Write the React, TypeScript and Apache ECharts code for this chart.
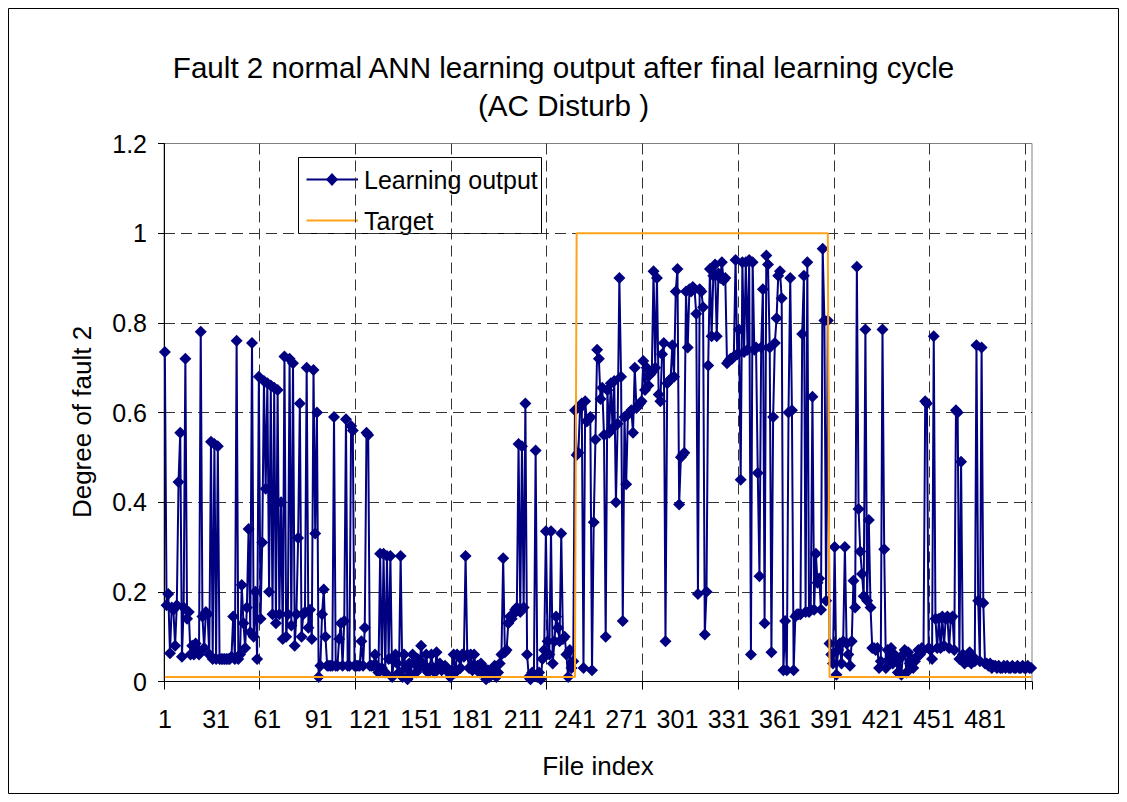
import React, { useEffect, useRef } from "react";
import * as echarts from "echarts";

const TITLE_LINE_1 = "Fault 2 normal ANN learning output after final learning cycle";
const TITLE_LINE_2 = "(AC Disturb )";
const X_NAME = "File index";
const Y_NAME = "Degree of fault 2";
const SERIES_NAMES = ["Learning output", "Target"];

// Learning output, files 1-57
const output001to057 = [
  0.735, 0.17, 0.195, 0.063, 0.165, 0.16, 0.08, 0.17, 0.445, 0.555, 0.055, 0.165, 0.72, 0.14, 0.155,
  0.06, 0.08, 0.06, 0.085, 0.065, 0.06, 0.78, 0.145, 0.075, 0.155, 0.15, 0.06, 0.535, 0.05, 0.53,
  0.05, 0.525, 0.05, 0.05, 0.05, 0.05, 0.05, 0.05, 0.05, 0.055, 0.145, 0.05, 0.76, 0.05, 0.06,
  0.215, 0.13, 0.075, 0.165, 0.34, 0.11, 0.755, 0.1, 0.2, 0.05, 0.68, 0.14,
];
// files 58-110
const output058to110 = [
  0.31, 0.67, 0.43, 0.665, 0.2, 0.66, 0.15, 0.655, 0.13, 0.65, 0.15, 0.4, 0.095, 0.725, 0.1,
  0.15, 0.72, 0.125, 0.71, 0.08, 0.15, 0.32, 0.62, 0.1, 0.15, 0.155, 0.7, 0.12, 0.16, 0.095,
  0.695, 0.33, 0.6, 0.01, 0.035, 0.15, 0.205, 0.1, 0.035, 0.035, 0.035, 0.035, 0.59, 0.035, 0.035,
  0.095, 0.13, 0.035, 0.135, 0.585, 0.035, 0.035, 0.57,
];
// files 111-166
const output111to166 = [
  0.56, 0.035, 0.035, 0.035, 0.035, 0.09, 0.035, 0.12, 0.555, 0.55, 0.035, 0.035, 0.035, 0.06, 0.035,
  0.02, 0.285, 0.03, 0.285, 0.02, 0.28, 0.05, 0.28, 0.01, 0.045, 0.06, 0.04, 0.02, 0.28, 0.01,
  0.06, 0.03, 0.005, 0.04, 0.015, 0.06, 0.04, 0.02, 0.05, 0.03, 0.08, 0.04, 0.03, 0.06, 0.02,
  0.03, 0.06, 0.03, 0.02, 0.065, 0.03, 0.04, 0.025, 0.03, 0.035, 0.03,
];
// files 167-225
const output167to225 = [
  0.02, 0.01, 0.025, 0.06, 0.02, 0.06, 0.055, 0.03, 0.06, 0.055, 0.28, 0.06, 0.03, 0.06, 0.025,
  0.06, 0.03, 0.035, 0.02, 0.04, 0.02, 0.03, 0.005, 0.025, 0.01, 0.015, 0.02, 0.035, 0.01, 0.02,
  0.04, 0.06, 0.275, 0.065, 0.07, 0.13, 0.145, 0.14, 0.15, 0.16, 0.165, 0.53, 0.155, 0.525, 0.165,
  0.62, 0.06, 0.01, 0.005, 0.02, 0.015, 0.515, 0.01, 0.02, 0.005, 0.05, 0.07, 0.335, 0.09,
];
// files 226-281
const output226to281 = [
  0.06, 0.335, 0.04, 0.09, 0.145, 0.12, 0.09, 0.33, 0.095, 0.1, 0.06, 0.01, 0.07, 0.03, 0.045,
  0.605, 0.505, 0.51, 0.61, 0.62, 0.03, 0.625, 0.58, 0.585, 0.59, 0.025, 0.355, 0.54, 0.74, 0.72,
  0.63, 0.655, 0.55, 0.1, 0.65, 0.555, 0.665, 0.565, 0.67, 0.4, 0.575, 0.9, 0.68, 0.135, 0.59,
  0.44, 0.595, 0.6, 0.605, 0.555, 0.7, 0.61, 0.615, 0.62, 0.625, 0.715,
];
// files 282-340
const output282to340 = [
  0.65, 0.7, 0.66, 0.685, 0.69, 0.915, 0.7, 0.9, 0.64, 0.625, 0.73, 0.755, 0.09, 0.665, 0.67,
  0.675, 0.75, 0.68, 0.87, 0.92, 0.395, 0.5, 0.505, 0.51, 0.87, 0.745, 0.875, 0.87, 0.88, 0.875,
  0.82, 0.195, 0.875, 0.87, 0.835, 0.105, 0.2, 0.705, 0.92, 0.77, 0.905, 0.93, 0.77, 0.91, 0.9,
  0.935, 0.895, 0.9, 0.71, 0.715, 0.72, 0.72, 0.725, 0.94, 0.73, 0.785, 0.45, 0.935, 0.735,
];
// files 341-395
const output341to395 = [
  0.935, 0.74, 0.94, 0.06, 0.935, 0.74, 0.745, 0.465, 0.235, 0.745, 0.875, 0.13, 0.95, 0.93, 0.745,
  0.065, 0.59, 0.755, 0.81, 0.905, 0.915, 0.855, 0.025, 0.135, 0.025, 0.6, 0.9, 0.605, 0.025, 0.145,
  0.15, 0.15, 0.15, 0.775, 0.905, 0.155, 0.935, 0.155, 0.16, 0.635, 0.16, 0.285, 0.22, 0.23, 0.16,
  0.965, 0.805, 0.18, 0.805, 0.085, 0.06, 0.04, 0.3, 0.015, 0.07,
];
// files 396-454
const output396to454 = [
  0.085, 0.04, 0.09, 0.3, 0.085, 0.06, 0.035, 0.09, 0.225, 0.165, 0.925, 0.385, 0.29, 0.24, 0.19,
  0.785, 0.18, 0.36, 0.165, 0.075, 0.075, 0.07, 0.075, 0.03, 0.045, 0.785, 0.295, 0.03, 0.07, 0.05,
  0.075, 0.04, 0.06, 0.045, 0.02, 0.05, 0.015, 0.06, 0.07, 0.02, 0.065, 0.04, 0.05, 0.03, 0.045,
  0.055, 0.07, 0.06, 0.075, 0.07, 0.625, 0.62, 0.075, 0.07, 0.05, 0.77, 0.14, 0.075, 0.14,
];
// files 455-508
const output455to508 = [
  0.075, 0.145, 0.08, 0.14, 0.145, 0.075, 0.14, 0.145, 0.07, 0.605, 0.6, 0.05, 0.49, 0.06, 0.04,
  0.05, 0.045, 0.065, 0.04, 0.055, 0.045, 0.75, 0.18, 0.045, 0.745, 0.175, 0.04, 0.04, 0.035, 0.04,
  0.03, 0.035, 0.035, 0.03, 0.035, 0.03, 0.03, 0.035, 0.03, 0.035, 0.03, 0.03, 0.035, 0.03, 0.03,
  0.035, 0.03, 0.03, 0.035, 0.03, 0.03, 0.035, 0.03, 0.03,
];

const learningOutput = [
  ...output001to057,
  ...output058to110,
  ...output111to166,
  ...output167to225,
  ...output226to281,
  ...output282to340,
  ...output341to395,
  ...output396to454,
  ...output455to508,
];

// Target: level and number of files at that level
const targetLevels = [0.01, 1, 0.01];
const targetRunLengths = [241, 148, 119];
const target = targetLevels.flatMap((v, k) => Array(targetRunLengths[k]).fill(v));

const fileIndex = learningOutput.map((_, i) => String(i + 1));

const FONT = "'Liberation Sans', Arial, Helvetica, sans-serif";
const NAVY = "#000080";
const ORANGE = "#FFA31A";

export default function App() {
  const ref = useRef<HTMLDivElement>(null);

  useEffect(() => {
    if (!ref.current) return;
    const chart = echarts.init(ref.current, undefined, { renderer: "svg" });
    const gridLine = { color: "#333", type: [11, 6] as any, width: 1 };
    chart.setOption({
      animation: false,
      backgroundColor: "#fff",
      title: {
        text: TITLE_LINE_1 + "\n" + TITLE_LINE_2,
        left: "center",
        top: 35,
        textStyle: {
          fontFamily: FONT,
          fontSize: 29.6,
          fontWeight: "normal",
          color: "#000",
          lineHeight: 38,
        },
      },
      grid: {
        left: 156,
        right: 87,
        top: 135.5,
        bottom: 112.5,
        show: true,
        borderColor: "#808080",
        borderWidth: 1,
        backgroundColor: "transparent",
      },
      xAxis: {
        type: "category",
        data: fileIndex,
        boundaryGap: true,
        name: X_NAME,
        nameLocation: "middle",
        nameGap: 71,
        nameTextStyle: { fontFamily: FONT, fontSize: 26, color: "#000" },
        axisLine: { show: true, lineStyle: { color: "#000", width: 1 } },
        axisTick: { show: true, interval: 55, length: 8, lineStyle: { color: "#000" } },
        axisLabel: { interval: 29, fontFamily: FONT, fontSize: 25, color: "#000", margin: 25 },
        splitLine: {
          show: true,
          interval: 55,
          showMinLine: false,
          showMaxLine: false,
          lineStyle: gridLine,
        },
      },
      yAxis: {
        type: "value",
        min: 0,
        max: 1.2,
        interval: 0.2,
        axisLine: { show: true, lineStyle: { color: "#000", width: 1 } },
        axisTick: { show: true, length: 6, lineStyle: { color: "#000" } },
        axisLabel: { fontFamily: FONT, fontSize: 25, color: "#000", margin: 17 },
        splitLine: { show: true, showMinLine: false, showMaxLine: false, lineStyle: gridLine },
      },
      series: [
        {
          name: SERIES_NAMES[0],
          type: "line",
          data: learningOutput,
          symbol: "diamond",
          symbolSize: 12,
          showAllSymbol: true,
          lineStyle: { color: NAVY, width: 2 },
          itemStyle: { color: NAVY },
          silent: true,
          z: 2,
        },
        {
          name: SERIES_NAMES[1],
          type: "line",
          data: target,
          symbol: "none",
          lineStyle: { color: ORANGE, width: 2 },
          itemStyle: { color: ORANGE },
          silent: true,
          z: 3,
        },
      ],
      graphic: [
        {
          type: "rect",
          shape: { x: 0.5, y: 0.5, width: 1110, height: 785 },
          style: { fill: "none", stroke: "#000", lineWidth: 1 },
          silent: true,
          z: 100,
        },
        {
          type: "text",
          x: 74,
          y: 414,
          rotation: Math.PI / 2,
          style: {
            text: Y_NAME,
            font: `26px ${FONT}`,
            fill: "#000",
            align: "center",
            verticalAlign: "middle",
          },
          silent: true,
          z: 100,
        },
        {
          type: "group",
          z: 100,
          children: [
            {
              type: "rect",
              shape: { x: 290.5, y: 149.5, width: 243, height: 76 },
              style: { fill: "#fff", stroke: "#000", lineWidth: 1 },
            },
            {
              type: "line",
              shape: { x1: 298.5, y1: 171.5, x2: 350, y2: 171.5 },
              style: { stroke: NAVY, lineWidth: 2 },
            },
            {
              type: "polygon",
              shape: { points: [[324, 165], [330, 171.5], [324, 178], [318, 171.5]] },
              style: { fill: NAVY },
            },
            {
              type: "text",
              x: 356,
              y: 171.5,
              style: {
                text: SERIES_NAMES[0],
                font: `25px ${FONT}`,
                fill: "#000",
                verticalAlign: "middle",
                align: "left",
              },
            },
            {
              type: "line",
              shape: { x1: 298.5, y1: 212.5, x2: 350, y2: 212.5 },
              style: { stroke: ORANGE, lineWidth: 2 },
            },
            {
              type: "text",
              x: 356,
              y: 212.5,
              style: {
                text: SERIES_NAMES[1],
                font: `25px ${FONT}`,
                fill: "#000",
                verticalAlign: "middle",
                align: "left",
              },
            },
          ],
        },
      ],
    });
    return () => chart.dispose();
  }, []);

  return <div ref={ref} style={{ width: 1111, height: 786 }} />;
}
